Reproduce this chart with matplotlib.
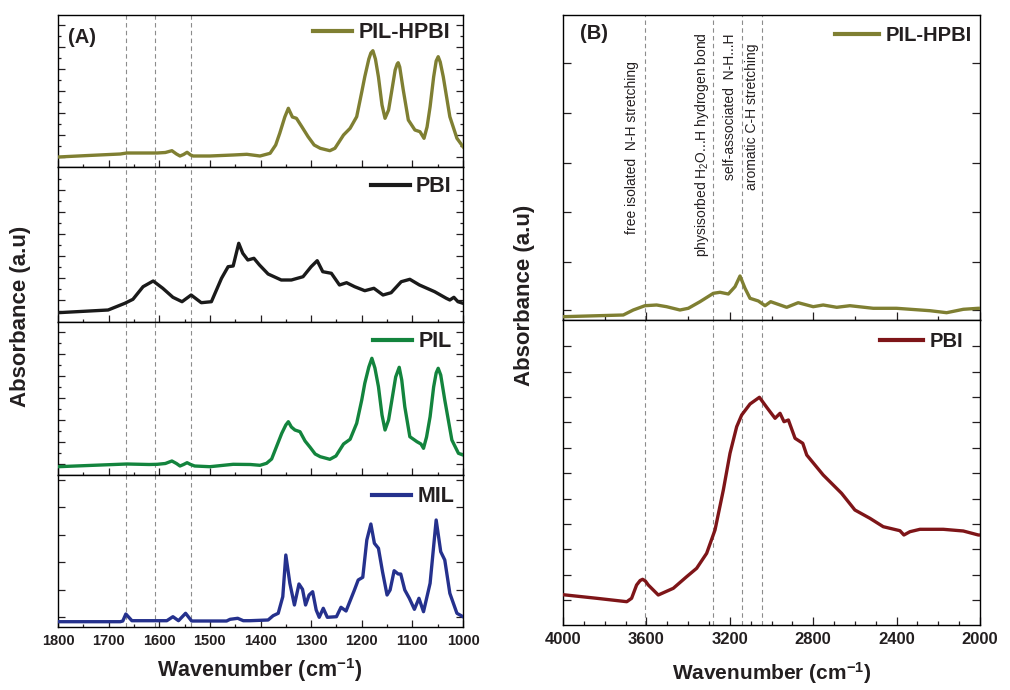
import numpy as np
import matplotlib
matplotlib.use('Agg')
import matplotlib.pyplot as plt
from matplotlib import font_manager

# ---------------- 数据 (A) 1800-1000 cm-1 ----------------
hpbi_a_wn = [1800,1740,1677,1664,1620,1604,1588,1575,1566,1559,1552,1545,1538,1533,1500,1454,1427,1401,
             1381,1370,1362,1352,1345,1337,1329,1318,1306,1294,1282,1263,1253,1236,1223,1210,1200,1194,
             1186,1182,1178,1173,1167,1160,1154,1147,1141,1134,1130,1128,1125,1118,1108,1095,1085,1077,
             1071,1065,1058,1053,1049,1045,1039,1026,1012,1000]
hpbi_a_abs = [10,11.5,13,14,14,14,14.5,16.3,13,11,12.5,14.7,12,11,11,12,12.7,11,
              13.7,22,33.7,50,58.7,50,48.7,40,30.3,22,18.7,16.3,18.7,32,38.7,50.3,75,90.3,
              108,114,116.3,108,90,62,48.7,57,75.3,97,103,104.3,100,77,47,37,35.3,28.7,
              40,60.3,90,106,110.3,105,90.3,50.3,28.7,20.3]

pbi_a_wn = [1800,1701,1668,1652,1632,1612,1593,1573,1555,1537,1517,1497,1477,1464,1454,1443,1435,1425,
            1413,1402,1385,1359,1339,1316,1300,1288,1277,1260,1244,1230,1214,1194,1176,1158,1142,1122,
            1105,1086,1056,1033,1026,1018,1010,1000]
pbi_a_abs = [9.3,12,18.7,22.7,35.3,41,33.7,24.7,20.3,27,19.3,20.3,43.7,55.3,56,78.7,68.7,62,
             63.7,57,48,42,42,45.3,55.3,61.3,50.3,48.7,37,39.3,35.3,31.3,33.7,27,29.3,40.3,
             42.7,37,30.3,23.7,22,24.7,20.3,18.7]

pil_a_wn = [1800,1740,1664,1620,1604,1588,1575,1566,1559,1552,1545,1538,1530,1500,1454,1420,1401,1388,
            1378,1371,1358,1350,1345,1339,1332,1322,1312,1302,1292,1282,1263,1251,1236,1223,1210,1200,
            1194,1186,1180,1174,1167,1160,1154,1147,1141,1133,1126,1121,1115,1105,1091,1083,1078,1072,
            1065,1058,1053,1049,1044,1036,1022,1009,1000]
pil_a_abs = [8.3,9.5,11,10.5,10.7,11.5,14,11.5,9,10.5,12.3,10.5,9,8.3,10.7,10.5,9.7,11.7,
             16,25,41.7,50,53.3,48,45,43.3,34,27.7,21,18.3,15.7,19,31,35.7,51.7,75,
             91.7,108,116.7,107,88.3,60,45,55,73.3,98,107.7,95,68.3,38.3,33.3,31,26.7,38,
             58.3,88,102,106.7,100,75,35,21.7,20]

mil_a_wn = [1800,1677,1672,1666,1654,1585,1573,1562,1548,1536,1467,1460,1445,1434,1421,1385,1375,1365,
            1356,1350,1342,1333,1324,1317,1311,1304,1297,1290,1284,1276,1268,1250,1241,1231,1215,1207,
            1198,1190,1182,1175,1167,1159,1150,1144,1136,1128,1123,1115,1106,1096,1087,1078,1065,1053,
            1044,1036,1026,1012,1000]
mil_a_abs = [5.3,5.3,6,13,6.3,6.3,10.3,6.3,13.7,6,6,7.7,8.7,6.3,6.3,7,11.3,13.7,
             30.3,72,43.7,22,43,37.7,22,32,35.3,17,9.7,18.7,9.7,10.3,19.7,16,36.3,47,
             49.7,87,103,83.7,78.7,55.3,32,37,56.3,53,53,37,28.7,17.7,28.7,15.3,43.7,107,
             75.3,67,33.7,13.7,10.3]

# ---------------- 数据 (B) 4000-2000 cm-1 ----------------
hpbi_b_wn = [4000,3711,3663,3607,3551,3503,3439,3399,3343,3279,3247,3207,3175,3151,3127,3103,3063,3031,
             3004,2927,2872,2800,2752,2687,2624,2512,2400,2240,2160,2080,2008,2000]
hpbi_b_abs = [3.3,5,10,14.3,15,13.3,10,11.7,18.3,26.7,27.7,26,33.3,44,31.7,21.7,19,14.3,
              18.3,12.7,17.3,13.3,15,12.7,14.3,11.7,11.7,9.3,7.3,10.7,11.7,11.7]

pbi_b_wn = [4000,3838,3694,3671,3647,3630,3618,3605,3591,3543,3471,3407,3359,3311,3271,3231,3199,3167,
            3143,3103,3058,3023,2983,2959,2940,2919,2887,2850,2831,2752,2664,2600,2528,2464,2384,2365,
            2336,2288,2176,2080,2008,2000]
pbi_b_abs = [30.3,26.7,23.3,26.7,40,44.5,45.7,44,40,30,36.7,48.3,56.7,71.7,95,135,171.7,198.3,
             210,221,227.7,217.7,206.7,211.7,203.3,205,186.7,181.7,170,150,131.7,115,106.7,98.3,94.3,90,
             93.3,95.7,95.7,94,90,90]

# 虚线位置
lines_a = [1665, 1608, 1538]
lines_b = [3605, 3280, 3140, 3045]

notes_b = ['free isolated  N-H stretching',
           'physisorbed H$_2$O...H hydrogen bond',
           'self-associated  N-H...H',
           'aromatic C-H stretching']
notes_b_x = [3669, 3333, 3199, 3094]
notes_b_y = [0.567, 0.574, 0.698, 0.666]

# ---------------- 样式 ----------------
plt.rcParams['font.family'] = ['Liberation Sans', 'DejaVu Sans']
plt.rcParams['mathtext.fontset'] = 'custom'
plt.rcParams['mathtext.rm'] = 'Liberation Sans'
plt.rcParams['mathtext.bf'] = 'Liberation Sans:bold'
plt.rcParams['mathtext.it'] = 'Liberation Sans:italic'
plt.rcParams['axes.linewidth'] = 1.0

installed = {f.name for f in font_manager.fontManager.ttflist}
if 'Liberation Sans Narrow' in installed:
    note_font, note_size = 'Liberation Sans Narrow', 12.2
else:
    note_font, note_size = 'Liberation Sans', 10

TXT = '#231f20'
OLIVE = '#7f7f32'
BLACK = '#1a1a1a'
GREEN = '#13843d'
NAVY = '#25318d'
DARKRED = '#7e1518'
DASH = '#8c8c8c'

fig = plt.figure(figsize=(10.1, 6.9), dpi=100)

W, H = 1010.0, 690.0
def box(x0, y0, x1, y1):
    return [x0 / W, 1 - y1 / H, (x1 - x0) / W, (y1 - y0) / H]

left_rows = [(15, 167), (167, 322), (322, 475), (475, 627)]
axA = [fig.add_axes(box(58, a, 463, b)) for a, b in left_rows]
axB = [fig.add_axes(box(563, 15, 980, 320)), fig.add_axes(box(563, 320, 980, 625))]

series_a = [(hpbi_a_wn, hpbi_a_abs, OLIVE, 'PIL-HPBI', 152, (0.968, 0.882)),
            (pbi_a_wn, pbi_a_abs, BLACK, 'PBI', 155, (0.972, 0.873)),
            (pil_a_wn, pil_a_abs, GREEN, 'PIL', 153, (0.972, 0.871)),
            (mil_a_wn, mil_a_abs, NAVY, 'MIL', 152, (0.978, 0.857))]

yt_major = [[10, 32, 54, 76, 98, 120, 142],
            [22, 44, 66, 88, 110, 132],
            [11, 33, 55, 77, 99, 121, 143],
            [10.3, 37, 64.7, 92, 119.7, 147]]
yt_minor = [[21, 43, 65, 87, 109, 131],
            [11, 33, 55, 77, 99, 121, 143],
            [22, 44, 66, 88, 110, 132],
            []]

for i, ax in enumerate(axA):
    wn, ab, col, name, top, anchor = series_a[i]
    ax.plot(wn, ab, color=col, lw=2.4, label=name, solid_joinstyle='round', zorder=3)
    for v in lines_a:
        ax.axvline(v, color=DASH, lw=0.8, ls=(0, (4, 3)), zorder=1)
    ax.set_xlim(1800, 1000)
    ax.set_ylim(0, top)
    ax.set_xticks(np.arange(1800, 999, -100))
    ax.set_xticks(np.arange(1750, 999, -100), minor=True)
    ax.set_yticks(yt_major[i])
    ax.set_yticks(yt_minor[i], minor=True)
    ax.tick_params(which='both', direction='in', left=True, right=True, top=False, bottom=True,
                   labelleft=False, labelbottom=(i == 3), width=0.9, colors=TXT,
                   labelsize=10.5, pad=5)
    ax.tick_params(which='major', length=5)
    ax.tick_params(which='minor', length=2.5)
    for lab in ax.get_xticklabels():
        lab.set_fontweight('bold')
    leg = ax.legend(loc='center right', bbox_to_anchor=anchor, frameon=False,
                    borderpad=0, borderaxespad=0, handlelength=1.8, handletextpad=0.3,
                    prop={'weight': 'bold', 'size': 15.5})
    for t in leg.get_texts():
        t.set_color(TXT)
    for l in leg.get_lines():
        l.set_linewidth(3)

axA[0].text(0.025, 0.85, '(A)', transform=axA[0].transAxes, fontsize=14.5,
            fontweight='bold', color=TXT, va='center', ha='left')

series_b = [(hpbi_b_wn, hpbi_b_abs, OLIVE, 'PIL-HPBI', (0.980, 0.934)),
            (pbi_b_wn, pbi_b_abs, DARKRED, 'PBI', (0.960, 0.929))]
ytb = [[10, 58, 108, 157, 207, 257],
       [25, 50, 75.7, 101, 126, 151.7, 177.3, 202.7, 228.3, 253.3, 279]]

for i, ax in enumerate(axB):
    wn, ab, col, name, anchor = series_b[i]
    ax.plot(wn, ab, color=col, lw=2.4, label=name, solid_joinstyle='round', zorder=3)
    for v in lines_b:
        ax.axvline(v, color=DASH, lw=0.8, ls=(0, (4, 3)), zorder=1)
    ax.set_xlim(4000, 2000)
    ax.set_ylim(0, 305)
    ax.set_xticks(np.arange(4000, 1999, -400))
    if i == 0:
        ax.set_xticks(np.arange(3800, 1999, -400), minor=True)
    else:
        ax.set_xticks([v for v in range(3900, 2000, -100) if v % 400 != 0], minor=True)
    ax.set_yticks(ytb[i])
    ax.tick_params(which='both', direction='in', left=True, right=True, top=False, bottom=True,
                   labelleft=False, labelbottom=(i == 1), width=0.9, colors=TXT,
                   labelsize=12, pad=5)
    ax.tick_params(which='major', length=5.5)
    ax.tick_params(which='minor', length=3)
    for lab in ax.get_xticklabels():
        lab.set_fontweight('bold')
    leg = ax.legend(loc='center right', bbox_to_anchor=anchor, frameon=False,
                    borderpad=0, borderaxespad=0, handlelength=2.15, handletextpad=0.33,
                    prop={'weight': 'bold', 'size': 14.5})
    for t in leg.get_texts():
        t.set_color(TXT)
    for l in leg.get_lines():
        l.set_linewidth(3)

axB[0].text(0.041, 0.94, '(B)', transform=axB[0].transAxes, fontsize=14.5,
            fontweight='bold', color=TXT, va='center', ha='left')

for s, x, y in zip(notes_b, notes_b_x, notes_b_y):
    axB[0].text(x, y, s, transform=axB[0].get_xaxis_transform(), rotation=90,
                ha='center', va='center', fontsize=note_size, family=note_font, color=TXT)

# 坐标轴标题
fig.text(0.020, 0.542, 'Absorbance (a.u)', rotation=90, ha='center', va='center',
         fontsize=16, fontweight='bold', color=TXT)
fig.text(0.519, 0.572, 'Absorbance (a.u)', rotation=90, ha='center', va='center',
         fontsize=16, fontweight='bold', color=TXT)
fig.text(0.257, 0.029, r'Wavenumber (cm$^{\mathbf{-1}}$)', ha='center', va='center',
         fontsize=15.5, fontweight='bold', color=TXT)
fig.text(0.764, 0.025, r'Wavenumber (cm$^{\mathbf{-1}}$)', ha='center', va='center',
         fontsize=15, fontweight='bold', color=TXT)

fig.savefig('out.png', dpi=100)
